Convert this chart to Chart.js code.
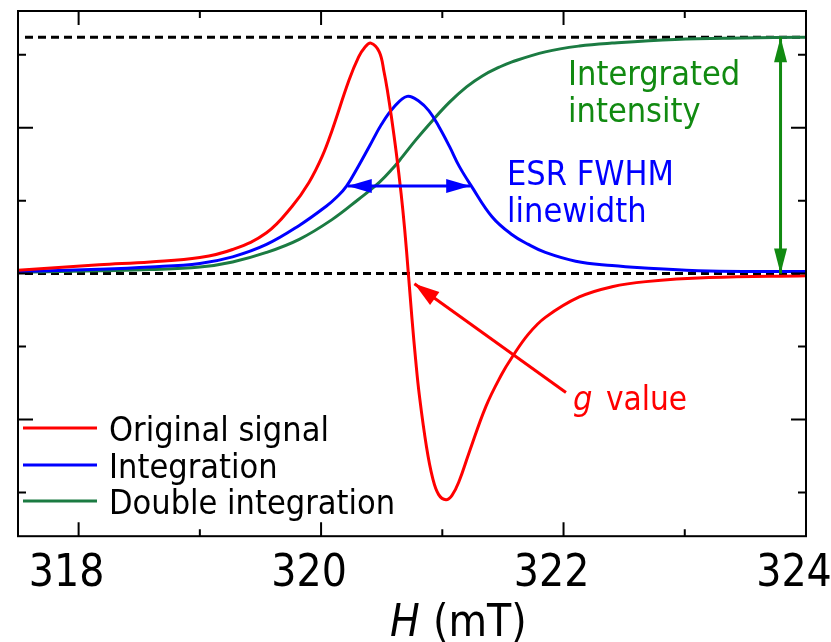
<!DOCTYPE html>
<html>
<head>
<meta charset="utf-8">
<script src="https://cdn.jsdelivr.net/npm/chart.js@4.4.1/dist/chart.umd.min.js"></script>
<style>
  body { margin: 0; background: #fff; }
  #wrap { width: 831px; height: 642px; }
</style>
</head>
<body>
<div id="wrap"><canvas id="esrChart" width="831" height="642"></canvas></div>
<script>
// values (H in mT, signal in tick units)
const redH = [317.5, 318.17, 318.59, 319.0, 319.27, 319.55, 319.76, 319.9, 320.01, 320.09, 320.23, 320.31, 320.36, 320.41, 320.48, 320.52, 320.55, 320.58, 320.62, 320.66, 320.69, 320.72, 320.75, 320.78, 320.81, 320.87, 320.92, 320.97, 321.03, 321.08, 321.14, 321.22, 321.36, 321.49, 321.57, 321.71, 321.85, 322.13, 322.4, 322.68, 323.2, 324.0];
const redV = [0.045, 0.12, 0.16, 0.22, 0.33, 0.56, 0.92, 1.25, 1.61, 1.96, 2.65, 2.97, 3.1, 3.16, 3.04, 2.76, 2.48, 2.15, 1.66, 1.1, 0.6, 0, -0.62, -1.18, -1.66, -2.38, -2.8, -3.03, -3.1, -3.04, -2.84, -2.46, -1.82, -1.38, -1.16, -0.83, -0.6, -0.32, -0.18, -0.11, -0.055, -0.03];

const blueH = [317.5, 318.17, 318.59, 319.0, 319.27, 319.55, 319.82, 320.04, 320.13, 320.21, 320.31, 320.4, 320.5, 320.6, 320.71, 320.81, 320.89, 320.97, 321.06, 321.14, 321.24, 321.41, 321.57, 321.71, 321.85, 322.1, 322.4, 322.64, 323.2, 324.0];
const blueV = [0.03, 0.06, 0.09, 0.14, 0.23, 0.4, 0.66, 0.92, 1.05, 1.2, 1.48, 1.75, 2.05, 2.28, 2.43, 2.36, 2.23, 2.02, 1.74, 1.47, 1.2, 0.78, 0.54, 0.4, 0.29, 0.17, 0.11, 0.08, 0.035, 0.03];

const greenH = [317.5, 318.17, 318.59, 319.0, 319.27, 319.55, 319.82, 320.09, 320.31, 320.48, 320.59, 320.67, 320.78, 320.92, 321.06, 321.2, 321.33, 321.47, 321.57, 321.85, 322.13, 322.4, 322.92, 323.47, 324.0];
const greenV = [0.02, 0.04, 0.055, 0.09, 0.16, 0.29, 0.47, 0.74, 1.02, 1.25, 1.44, 1.6, 1.83, 2.1, 2.35, 2.56, 2.71, 2.83, 2.9, 3.04, 3.12, 3.16, 3.21, 3.23, 3.24];

const seriesNames = ['Original signal', 'Integration', 'Double integration'];
const xMajor = [318, 320, 322, 324];
const xMinor = [319, 321, 323];
const yMajor = [-2, 0, 2];
const yMinor = [-3, -1, 1, 3];
const plateau = 3.24;          // top of the double integration
const halfMax = 1.2;           // FWHM level of the integration
const fwhmLeft = 320.22, fwhmRight = 321.23;
const intensityH = 323.79;

const FONT = '"DejaVu Sans Condensed", "DejaVu Sans", sans-serif';
const RED = '#ff0000', BLUE = '#0000ff', GREEN = '#1b7b42', GREEN_TXT = '#118a11';

function pts(hs, vs) {
  return hs.map((h, i) => ({ x: h, y: vs[i] }));
}

function arrowHead(ctx, x1, y1, x2, y2, len, w) {
  const ang = Math.atan2(y2 - y1, x2 - x1);
  ctx.save();
  ctx.translate(x2, y2);
  ctx.rotate(ang);
  ctx.beginPath();
  ctx.moveTo(0, 0);
  ctx.lineTo(-len, -w / 2);
  ctx.lineTo(-len, w / 2);
  ctx.closePath();
  ctx.fill();
  ctx.restore();
}

function arrowLine(ctx, x1, y1, x2, y2, color, both, len, w) {
  ctx.save();
  ctx.strokeStyle = color;
  ctx.fillStyle = color;
  ctx.lineWidth = 3;
  ctx.beginPath();
  ctx.moveTo(x1, y1);
  ctx.lineTo(x2, y2);
  ctx.stroke();
  arrowHead(ctx, x1, y1, x2, y2, len, w);
  if (both) arrowHead(ctx, x2, y2, x1, y1, len, w);
  ctx.restore();
}

const overlay = {
  id: 'overlay',
  beforeDatasetsDraw(chart) {
    const { ctx, chartArea: a, scales: { y } } = chart;
    ctx.save();
    ctx.strokeStyle = '#000';
    ctx.lineWidth = 3;
    ctx.setLineDash([8, 5]);
    [0, plateau].forEach(v => {
      const py = y.getPixelForValue(v);
      ctx.beginPath();
      ctx.moveTo(a.left + 7, py);
      ctx.lineTo(a.right, py);
      ctx.stroke();
    });
    ctx.restore();
  },
  afterDatasetsDraw(chart) {
    const { ctx, chartArea: a, scales: { x, y } } = chart;
    ctx.save();

    // frame + inward ticks
    ctx.strokeStyle = '#000';
    ctx.lineWidth = 2;
    ctx.strokeRect(a.left, a.top, a.right - a.left, a.bottom - a.top);
    const tick = (v, len, horiz) => {
      ctx.beginPath();
      if (horiz) {
        const px = x.getPixelForValue(v);
        ctx.moveTo(px, a.bottom); ctx.lineTo(px, a.bottom - len);
        ctx.moveTo(px, a.top); ctx.lineTo(px, a.top + len);
      } else {
        const py = y.getPixelForValue(v);
        ctx.moveTo(a.left, py); ctx.lineTo(a.left + len, py);
        ctx.moveTo(a.right, py); ctx.lineTo(a.right - len, py);
      }
      ctx.stroke();
    };
    xMajor.forEach(v => tick(v, 14, true));
    xMinor.forEach(v => tick(v, 7, true));
    yMajor.forEach(v => tick(v, 15, false));
    yMinor.forEach(v => tick(v, 8, false));

    // FWHM arrow
    const hy = y.getPixelForValue(halfMax);
    arrowLine(ctx, x.getPixelForValue(fwhmLeft), hy, x.getPixelForValue(fwhmRight), hy, BLUE, true, 24, 14);

    // integrated intensity arrow
    const ix = x.getPixelForValue(intensityH);
    arrowLine(ctx, ix, y.getPixelForValue(plateau), ix, y.getPixelForValue(0), GREEN_TXT, true, 25, 13);

    // g value arrow
    arrowLine(ctx, x.getPixelForValue(322.02), y.getPixelForValue(-1.63),
      x.getPixelForValue(320.77), y.getPixelForValue(-0.14), RED, false, 25, 16);

    // texts
    ctx.textBaseline = 'alphabetic';
    ctx.textAlign = 'left';
    ctx.font = '34px ' + FONT;
    ctx.fillStyle = GREEN_TXT;
    ctx.fillText('Intergrated', 568, 85);
    ctx.fillText('intensity', 568, 122);
    ctx.fillStyle = BLUE;
    ctx.fillText('ESR FWHM', 507, 185);
    ctx.fillText('linewidth', 507, 222);
    ctx.fillStyle = RED;
    ctx.font = 'italic 34px ' + FONT;
    ctx.fillText('g', 573, 410);
    ctx.font = '33px ' + FONT;
    ctx.fillText('value', 606, 410);

    // legend
    const cols = [RED, BLUE, GREEN];
    const rows = [428, 465, 501];
    ctx.font = '34px ' + FONT;
    seriesNames.forEach((name, i) => {
      ctx.strokeStyle = cols[i];
      ctx.lineWidth = 3;
      ctx.beginPath();
      ctx.moveTo(23, rows[i]);
      ctx.lineTo(97, rows[i]);
      ctx.stroke();
      ctx.fillStyle = '#000';
      ctx.fillText(name, 109, rows[i] + 13);
    });

    // axis title
    ctx.fillStyle = '#000';
    ctx.font = 'italic 44px ' + FONT;
    ctx.fillText('H', 390, 636);
    ctx.font = '44px ' + FONT;
    ctx.fillText('(mT)', 433, 636);

    ctx.restore();
  }
};

const ctx = document.getElementById('esrChart').getContext('2d');
const esrChart = new Chart(ctx, {
  type: 'line',
  data: {
    datasets: [
      { label: seriesNames[0], data: pts(redH, redV), borderColor: RED },
      { label: seriesNames[1], data: pts(blueH, blueV), borderColor: BLUE },
      { label: seriesNames[2], data: pts(greenH, greenV), borderColor: GREEN }
    ]
  },
  options: {
    responsive: false,
    animation: false,
    devicePixelRatio: 1,
    layout: { padding: { left: 18, right: 25, top: 11, bottom: 29 } },
    elements: {
      point: { radius: 0 },
      line: { borderWidth: 3, tension: 0.4, fill: false }
    },
    plugins: {
      legend: { display: false },
      tooltip: { enabled: false }
    },
    scales: {
      x: {
        type: 'linear',
        min: 317.5,
        max: 324,
        grid: { display: false, drawTicks: false },
        border: { display: false },
        afterBuildTicks: s => { s.ticks = xMajor.map(v => ({ value: v })); },
        afterFit: s => { s.paddingLeft = 0; s.paddingRight = 0; },
        ticks: {
          color: '#000',
          font: { family: FONT, size: 44 },
          padding: 12,
          labelOffset: -12,
          maxRotation: 0,
          autoSkip: false
        }
      },
      y: {
        type: 'linear',
        min: -3.6,
        max: 3.6,
        display: false
      }
    }
  },
  plugins: [overlay]
});
</script>
</body>
</html>
